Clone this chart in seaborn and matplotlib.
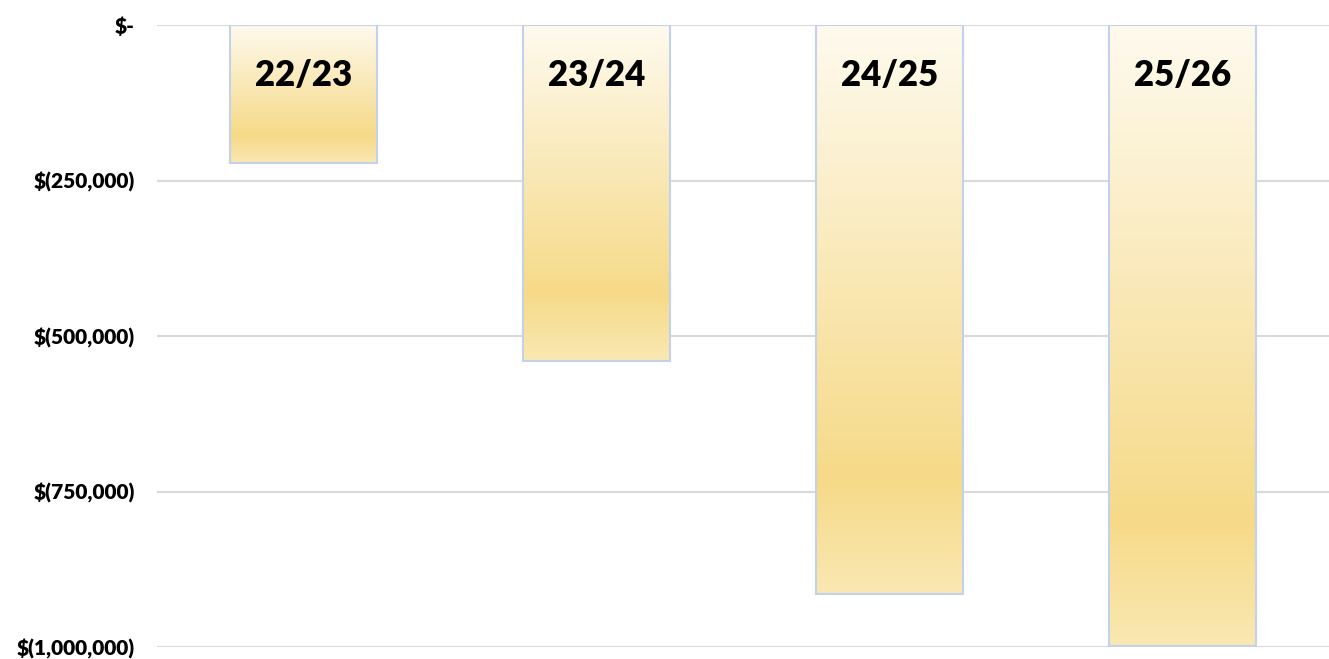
import numpy as np
import matplotlib
matplotlib.use("Agg")
import matplotlib.pyplot as plt
import seaborn as sbn
import pandas as pd
from matplotlib.colors import LinearSegmentedColormap
from matplotlib.ticker import FuncFormatter

# data
seasons = ["22/23", "23/24", "24/25", "25/26"]
values = [-222000, -540000, -915000, -998000]
tick_values = [0, -250000, -500000, -750000, -1000000]

df = pd.DataFrame({"season": seasons, "value": values})

sbn.set_style("white")
plt.rcParams["font.family"] = ["Lato", "DejaVu Sans"]

fig = plt.figure(figsize=(13.29, 6.59), dpi=100)
ax = fig.add_axes([0.118, 0.018, 0.882, 0.944])

sbn.barplot(data=df, x="season", y="value", width=0.5, color="#f6da88", ax=ax)


def money(v, pos):
    if v == 0:
        return "$-"
    return "$({:,.0f})".format(abs(v))


ax.set_ylim(-1000000, 0)
ax.set_xlim(-0.5, 3.5)
ax.set_yticks(tick_values)
ax.yaxis.set_major_formatter(FuncFormatter(money))
ax.tick_params(axis="y", length=0, pad=16, labelsize=15, labelcolor="black")
ax.set_xticks([])
ax.set_xlabel("")
ax.set_ylabel("")
ax.yaxis.grid(True, color="#d9d9d9", linewidth=1.5)
ax.set_axisbelow(True)
for s in ax.spines.values():
    s.set_visible(False)

# vertical gradient like the original fill
grad_cmap = LinearSegmentedColormap.from_list(
    "gold", [(0.0, "#fefaee"), (0.8, "#f6da88"), (1.0, "#fae8b2")])
grad = np.linspace(0, 1, 256).reshape(-1, 1)

for patch, lab in zip(ax.patches, seasons):
    x0 = patch.get_x()
    w = patch.get_width()
    y0 = patch.get_y()
    h = patch.get_height()
    top = max(y0, y0 + h)
    bot = min(y0, y0 + h)
    im = ax.imshow(grad, cmap=grad_cmap, aspect="auto", origin="upper",
                   extent=[x0, x0 + w, bot, top], zorder=2)
    im.set_clip_path(patch)
    patch.set_facecolor("none")
    patch.set_edgecolor("#c3d1ea")
    patch.set_linewidth(1.5)
    patch.set_zorder(3)
    ax.annotate(lab, (x0 + w / 2, top), xytext=(0, -36), textcoords="offset points",
                ha="center", va="center", fontsize=25, fontweight="heavy",
                color="black", zorder=4)

ax.set_ylim(-1000000, 0)
ax.set_xlim(-0.5, 3.5)

fig.canvas.draw()
for t in ax.get_yticklabels():
    t.set_fontweight("heavy")

fig.savefig("out.png", dpi=100, facecolor="white")
